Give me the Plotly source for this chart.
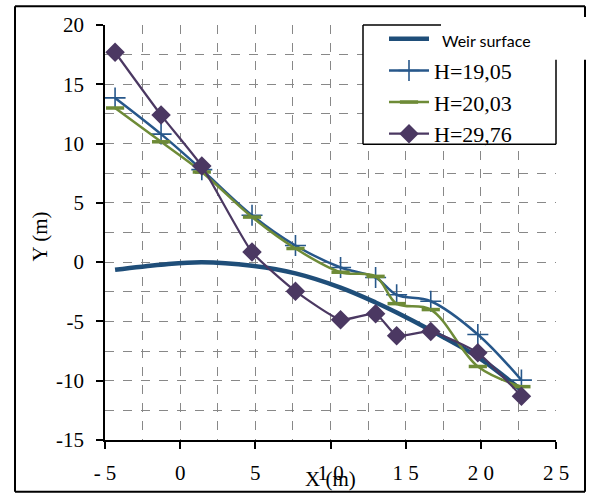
import plotly.graph_objects as go

# ---- data ----
x_pts = [-4.33, -1.27, 1.44, 4.78, 7.67, 10.67, 13.0, 14.4, 16.67, 19.8, 22.7]
weir_y = [-0.65, -0.22, 0.0, -0.3, -0.95, -2.15, -3.4, -4.25, -5.75, -8.0, -10.8]
h1905_y = [13.85, 10.8, 7.8, 3.95, 1.4, -0.45, -1.3, -2.75, -3.3, -6.1, -9.95]
h2003_y = [13.0, 10.15, 7.6, 3.8, 1.15, -0.85, -1.2, -3.5, -4.0, -8.8, -10.5]
h2976_y = [17.7, 12.4, 8.1, 0.85, -2.45, -4.85, -4.35, -6.2, -5.85, -7.65, -11.3]

x_ticks = [-5, 0, 5, 10, 15, 20, 25]
x_ticktext = ["- 5", "0", "5", "1 0", "1 5", "2 0", "2 5"]
y_ticks = [-15, -10, -5, 0, 5, 10, 15, 20]
y_ticktext = ["-15", "-10", "-5", "0", "5", "10", "15", "20"]

c_weir = "#1F4E79"
c_1905 = "#27578A"
c_2003 = "#6E8B37"
c_2976 = "#4B3862"
serif = "Liberation Serif"

fig = go.Figure()
fig.add_trace(go.Scatter(
    x=x_pts, y=weir_y, mode="lines", line=dict(color=c_weir, width=4.5, shape="spline"),
    name="<span style='font-family:Lato;font-size:16px'>&nbsp;&nbsp;Weir surface</span>"))
fig.add_trace(go.Scatter(
    x=x_pts, y=h1905_y, mode="lines+markers", line=dict(color=c_1905, width=2.5, shape="spline"),
    marker=dict(symbol="cross-thin", size=15, line=dict(color=c_1905, width=1.6)),
    name="H=19,05"))
fig.add_trace(go.Scatter(
    x=x_pts, y=h2003_y, mode="lines+markers", line=dict(color=c_2003, width=2.5, shape="spline"),
    marker=dict(symbol="line-ew", size=13, line=dict(color=c_2003, width=3.5)),
    name="H=20,03"))
fig.add_trace(go.Scatter(
    x=x_pts, y=h2976_y, mode="lines+markers", line=dict(color=c_2976, width=2.2, shape="spline", smoothing=0.5),
    marker=dict(symbol="diamond", size=15, color=c_2976),
    name="H=29,76"))

tick_font = dict(family=serif, size=21, color="black")
common = dict(showgrid=True, gridcolor="#888888", gridwidth=1, griddash="dash",
              showline=True, linecolor="black", linewidth=1.5, ticks="outside", ticklen=7,
              tickcolor="black", tickwidth=1.5, zeroline=False,
              minor=dict(dtick=2.5, showgrid=True, gridcolor="#888888", griddash="dash", gridwidth=1))
fig.update_layout(
    xaxis=dict(range=[-5, 25], tickmode="array", tickvals=x_ticks, ticktext=x_ticktext,
               tickfont=tick_font, ticklabelstandoff=6, **common),
    yaxis=dict(range=[-15, 20], tickmode="array", tickvals=y_ticks, ticktext=y_ticktext,
               tickfont=tick_font, ticklabelstandoff=8, **common),
)

W, H = 590, 497
L, R, T, B = 105, 34, 25, 54
pw, ph = W - L - R, H - T - B


def px(x):
    return (x - L) / pw


def py(y):
    return (T + ph - y) / ph


def seg(x0, y0, x1, y1, w=2):
    return dict(type="line", xref="paper", yref="paper", x0=px(x0), y0=py(y0), x1=px(x1), y1=py(y1),
                line=dict(color="black", width=w), layer="above")


shapes = [
    # legend background box (white) and its frame
    dict(type="rect", xref="paper", yref="paper", x0=px(363), x1=px(556), y0=py(145), y1=py(25),
         fillcolor="white", line=dict(width=0), layer="above"),
    dict(type="rect", xref="paper", yref="paper", x0=px(441), x1=px(590), y0=py(60), y1=py(17),
         fillcolor="white", line=dict(width=0), layer="above"),
    seg(363, 25, 441, 25, 1.5), seg(363, 25, 363, 145, 1.5), seg(363, 145, 556, 145, 1.5),
    seg(556, 60, 556, 145, 1.5),
    # outer chart frame
    seg(15, 6, 585, 6), seg(15, 6, 15, 495), seg(15, 495, 585, 495),
    seg(585, 6, 585, 17), seg(585, 60, 585, 495),
]

fig.update_layout(
    width=W, height=H,
    margin=dict(l=L, r=R, t=T, b=B),
    paper_bgcolor="white", plot_bgcolor="white",
    font=dict(family=serif, size=21, color="black"),
    showlegend=True,
    legend=dict(x=px(384), y=py(18), xanchor="left", yanchor="top",
                bgcolor="rgba(0,0,0,0)", borderwidth=0,
                font=dict(family=serif, size=22, color="black"),
                tracegroupgap=0, itemwidth=40),
    shapes=shapes,
    annotations=[
        dict(text="X (m)", xref="paper", yref="paper", x=px(330), y=py(482),
             showarrow=False, font=dict(family=serif, size=21, color="black"),
             xanchor="center", yanchor="middle"),
        dict(text="Y (m)", xref="paper", yref="paper", x=px(40), y=py(238),
             showarrow=False, textangle=-90, font=dict(family=serif, size=21, color="black"),
             xanchor="center", yanchor="middle"),
    ],
)

fig.write_html("out.html", config={"displayModeBar": False},
               post_script="document.body.style.margin='0';document.body.style.overflow='hidden';")
